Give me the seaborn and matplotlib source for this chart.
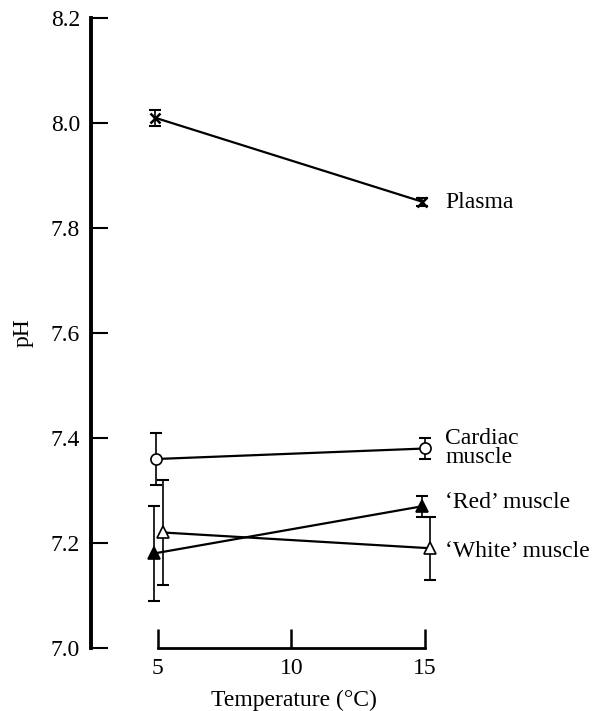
import matplotlib
matplotlib.use("Agg")
import matplotlib.pyplot as plt
import seaborn as sns
import pandas as pd

sns.set_theme(style="white")
plt.rcParams['font.family'] = ['Liberation Serif', 'DejaVu Serif']
plt.rcParams['text.color'] = 'black'

# Data (temperature in °C, pH, SE)
series = ["Plasma", "Cardiac muscle", "'Red' muscle", "'White' muscle"]
temps_plasma = [4.9, 14.9]
ph_plasma = [8.01, 7.85]
err_plasma = [0.015, 0.008]
temps_cardiac = [4.95, 15.0]
ph_cardiac = [7.36, 7.38]
err_cardiac = [0.05, 0.02]
temps_red = [4.85, 14.9]
ph_red = [7.18, 7.27]
err_red = [0.09, 0.02]
temps_white = [5.2, 15.2]
ph_white = [7.22, 7.19]
err_white = [0.10, 0.06]

labels = ["Plasma", "Cardiac\nmuscle", "\u2018Red\u2019 muscle", "\u2018White\u2019 muscle"]
label_y = [7.848, 7.381, 7.278, 7.183]

fig = plt.figure(figsize=(5.95, 7.11), dpi=100)
ax = fig.add_axes([91/595, 1-648/711, 350/595, 630/711])

specs = [
    (temps_plasma, ph_plasma, err_plasma, dict(marker='x', mfc='black', ms=7, mew=1.8)),
    (temps_cardiac, ph_cardiac, err_cardiac, dict(marker='o', mfc='white', ms=8, mew=1.2)),
    (temps_red, ph_red, err_red, dict(marker='^', mfc='black', ms=9, mew=1.2)),
    (temps_white, ph_white, err_white, dict(marker='^', mfc='white', ms=9, mew=1.2)),
]
for (t, p, e, mk) in specs:
    df = pd.DataFrame({"t": t, "pH": p})
    ax.errorbar(t, p, yerr=e, fmt='none', ecolor='black', elinewidth=1.2,
                capsize=4.5, capthick=1.5, zorder=2)
    sns.lineplot(data=df, x="t", y="pH", ax=ax, color='black', lw=1.6,
                 marker=mk['marker'], markerfacecolor=mk['mfc'],
                 markeredgecolor='black', markersize=mk['ms'],
                 markeredgewidth=mk['mew'], zorder=3)

for lab, yy in zip(labels, label_y):
    ax.text(15.75, yy, lab, fontsize=17, va='center', ha='left', color='black',
            linespacing=0.88, clip_on=False)

xmin, xmax = 2.5, 15.6
ax.set_xlim(xmin, xmax)
ax.set_ylim(7.0, 8.2)
ax.set_xticks([5, 10, 15])
ax.set_yticks([7.0, 7.2, 7.4, 7.6, 7.8, 8.0, 8.2])
ax.set_yticklabels(["7.0", "7.2", "7.4", "7.6", "7.8", "8.0", "8.2"])
ax.spines['top'].set_visible(False)
ax.spines['right'].set_visible(False)
ax.spines['left'].set_linewidth(2.8)
ax.spines['bottom'].set_linewidth(2.0)
ax.spines['bottom'].set_bounds(5, 15)
for s in ['left', 'bottom']:
    ax.spines[s].set_color('black')
ax.tick_params(axis='y', direction='in', length=12, width=1.5, labelsize=17,
               pad=8, colors='black', left=True)
ax.tick_params(axis='x', direction='in', length=14, width=1.8, labelsize=17,
               pad=7, colors='black', bottom=True)
ax.set_xlabel("Temperature (\u00b0C)", fontsize=17, labelpad=8, color='black')
ax.xaxis.label.set_x((10.1 - xmin) / (xmax - xmin))
ax.set_ylabel("pH", fontsize=17, labelpad=12, color='black')
ax.grid(False)

fig.savefig("out.png", dpi=100)
